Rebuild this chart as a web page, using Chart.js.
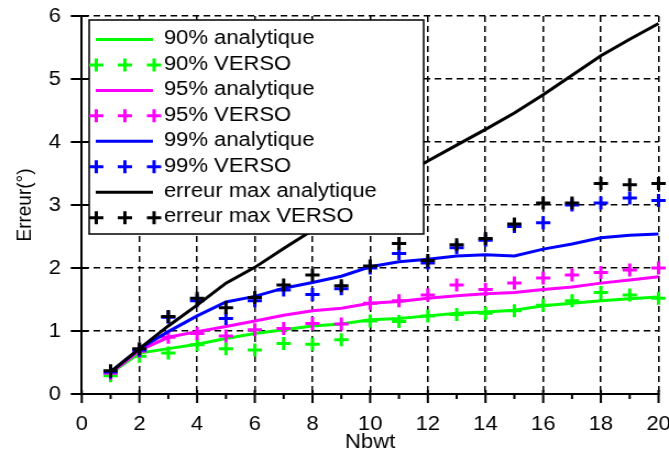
<!DOCTYPE html>
<html lang="fr">
<head>
    <meta charset="UTF-8">
    <title>Erreur en fonction de Nbwt</title>
    <style>
        body {
            margin: 0;
            background: #fff;
        }
    </style>
</head>
<body>
    <!-- the source figure is stretched about 10% sideways, so the chart is
         drawn 608 wide and widened to 669 by the inline style -->
    <canvas id="erreurChart" width="608" height="463" style="display:block;width:669px;height:463px"></canvas>
    <script src="https://cdn.jsdelivr.net/npm/chart.js"></script>
    <script>
        // Nbwt values (x axis)
        const nbwt = [1, 2, 3, 4, 5, 6, 7, 8, 9, 10, 11, 12, 13, 14, 15, 16, 17, 18, 19, 20];

        // Erreur (deg) per curve
        const ana90 = [0.33, 0.65, 0.72, 0.79, 0.88, 0.96, 1.02, 1.08, 1.11, 1.18, 1.20, 1.24, 1.28, 1.30, 1.33, 1.40, 1.44, 1.48, 1.51, 1.54];
        const verso90 = [0.29, 0.60, 0.65, 0.78, 0.72, 0.70, 0.80, 0.79, 0.86, 1.16, 1.15, 1.24, 1.26, 1.28, 1.32, 1.41, 1.48, 1.61, 1.57, 1.52];
        const ana95 = [0.33, 0.69, 0.90, 0.99, 1.07, 1.16, 1.25, 1.32, 1.36, 1.44, 1.47, 1.52, 1.56, 1.59, 1.61, 1.66, 1.70, 1.76, 1.81, 1.86];
        const verso95 = [0.33, 0.68, 0.90, 0.96, 0.92, 1.02, 1.04, 1.12, 1.11, 1.44, 1.48, 1.57, 1.73, 1.66, 1.76, 1.84, 1.89, 1.93, 1.97, 2.00];
        const ana99 = [0.35, 0.72, 0.99, 1.24, 1.46, 1.55, 1.68, 1.77, 1.87, 2.02, 2.10, 2.14, 2.19, 2.21, 2.19, 2.30, 2.38, 2.48, 2.52, 2.54];
        const verso99 = [0.35, 0.70, 1.22, 1.48, 1.20, 1.48, 1.65, 1.58, 1.67, 2.00, 2.23, 2.08, 2.32, 2.44, 2.66, 2.72, 3.00, 3.03, 3.11, 3.07];
        const anaMax = [0.35, 0.72, 1.08, 1.41, 1.76, 2.01, 2.31, 2.60, 2.88, 3.15, 3.43, 3.70, 3.95, 4.20, 4.46, 4.75, 5.06, 5.37, 5.63, 5.88];
        const versoMax = [0.37, 0.72, 1.23, 1.52, 1.37, 1.53, 1.73, 1.89, 1.72, 2.03, 2.39, 2.12, 2.37, 2.47, 2.70, 3.03, 3.03, 3.34, 3.32, 3.34];

        // axis ticks
        const xTicks = [0, 2, 4, 6, 8, 10, 12, 14, 16, 18, 20];
        const xMinorTicks = [1, 3, 5, 7, 9, 11, 13, 15, 17, 19];
        const yTicks = [0, 1, 2, 3, 4, 5, 6];

        const FONT = '"Liberation Sans", Arial, sans-serif';

        function pts(values) {
            return nbwt.map((n, i) => ({ x: n, y: values[i] }));
        }

        function curve(label, values, color, order) {
            return {
                label: label,
                data: pts(values),
                borderColor: color,
                backgroundColor: color,
                borderWidth: 3,
                pointRadius: 0,
                showLine: true,
                clip: false,
                order: order
            };
        }

        function markers(label, values, color, order) {
            return {
                label: label,
                data: pts(values),
                borderColor: color,
                backgroundColor: color,
                showLine: false,
                pointStyle: 'cross',
                pointRadius: 6.5,
                pointBorderWidth: 3,
                clip: false,
                order: order
            };
        }

        // tick marks crossing the axes, minor ticks below the x axis
        const axisMarks = {
            id: 'axisMarks',
            afterDraw(chart) {
                const { ctx, scales: { x, y } } = chart;
                const x0 = x.getPixelForValue(0);
                const y0 = y.getPixelForValue(0);
                ctx.save();
                ctx.strokeStyle = '#000';
                ctx.lineWidth = 2;
                ctx.beginPath();
                xTicks.forEach(v => {
                    const px = x.getPixelForValue(v);
                    ctx.moveTo(px, y0 - 4);
                    ctx.lineTo(px, y0 + 9);
                });
                xMinorTicks.forEach(v => {
                    const px = x.getPixelForValue(v);
                    ctx.moveTo(px, y0);
                    ctx.lineTo(px, y0 + 5);
                });
                yTicks.forEach(v => {
                    const py = y.getPixelForValue(v);
                    ctx.moveTo(x0 - 10, py);
                    ctx.lineTo(x0 + 6, py);
                });
                ctx.stroke();
                ctx.restore();
            }
        };

        // boxed legend inside the plot, top left
        const boxLegend = {
            id: 'boxLegend',
            afterDatasetsDraw(chart) {
                const ctx = chart.ctx;
                const left = 81, top = 20, w = 304, h = 214;
                ctx.save();
                ctx.fillStyle = '#fff';
                ctx.fillRect(left, top, w, h);
                ctx.strokeStyle = '#000';
                ctx.lineWidth = 1.5;
                ctx.strokeRect(left, top, w, h);
                ctx.font = '20px ' + FONT;
                ctx.textBaseline = 'alphabetic';
                chart.data.datasets.forEach((ds, i) => {
                    const ym = 39.5 + 25.45 * i;
                    ctx.strokeStyle = ds.borderColor;
                    ctx.lineWidth = 3;
                    ctx.beginPath();
                    if (ds.showLine) {
                        ctx.moveTo(87, ym);
                        ctx.lineTo(139, ym);
                    } else {
                        [87.5, 113.5, 140].forEach(cx => {
                            ctx.moveTo(cx - 6.5, ym);
                            ctx.lineTo(cx + 6.5, ym);
                            ctx.moveTo(cx, ym - 6.5);
                            ctx.lineTo(cx, ym + 6.5);
                        });
                    }
                    ctx.stroke();
                    ctx.fillStyle = '#000';
                    ctx.fillText(ds.label, 149, 44.3 + 25.45 * i);
                });
                ctx.restore();
            }
        };

        const gridColor = c => (c.tick && c.tick.value === 0 ? 'rgba(0,0,0,0)' : '#000');

        new Chart(document.getElementById('erreurChart'), {
            type: 'line',
            data: {
                datasets: [
                    curve('90% analytique', ana90, '#00ff00', 8),
                    markers('90% VERSO', verso90, '#00ff00', 7),
                    curve('95% analytique', ana95, '#ff00ff', 6),
                    markers('95% VERSO', verso95, '#ff00ff', 5),
                    curve('99% analytique', ana99, '#0000ff', 4),
                    markers('99% VERSO', verso99, '#0000ff', 3),
                    curve('erreur max analytique', anaMax, '#000000', 2),
                    markers('erreur max VERSO', versoMax, '#000000', 1)
                ]
            },
            options: {
                responsive: false,
                animation: false,
                devicePixelRatio: 1,
                layout: {
                    padding: { left: 0, top: 16, right: 8.6, bottom: 0 }
                },
                plugins: {
                    legend: { display: false },
                    tooltip: { enabled: false }
                },
                scales: {
                    x: {
                        type: 'linear',
                        min: 0,
                        max: 20,
                        afterBuildTicks: s => { s.ticks = xTicks.map(v => ({ value: v })); },
                        afterFit: s => { s.height = 69; s.paddingLeft = 0; s.paddingRight = 0; },
                        grid: {
                            color: gridColor,
                            lineWidth: 1.5,
                            drawTicks: false
                        },
                        border: { display: true, color: '#000', width: 2, dash: [6, 4] },
                        ticks: {
                            padding: 18,
                            color: '#000',
                            maxRotation: 0,
                            font: { size: 20, family: FONT }
                        },
                        title: {
                            display: true,
                            text: 'Nbwt',
                            color: '#000',
                            font: { size: 20, family: FONT },
                            padding: { top: 0, bottom: 9 }
                        }
                    },
                    y: {
                        min: 0,
                        max: 6,
                        afterBuildTicks: s => { s.ticks = yTicks.map(v => ({ value: v })); },
                        afterFit: s => { s.width = 74.3; s.paddingTop = 0; s.paddingBottom = 0; },
                        grid: {
                            color: gridColor,
                            lineWidth: 1.5,
                            drawTicks: false
                        },
                        border: { display: true, color: '#000', width: 2, dash: [6, 4] },
                        ticks: {
                            padding: 19,
                            color: '#000',
                            font: { size: 20, family: FONT }
                        },
                        title: {
                            display: true,
                            text: 'Erreur(°)',
                            color: '#000',
                            font: { size: 19, family: FONT },
                            padding: { top: 11.3, bottom: 0 }
                        }
                    }
                }
            },
            plugins: [axisMarks, boxLegend]
        });
    </script>
</body>
</html>
